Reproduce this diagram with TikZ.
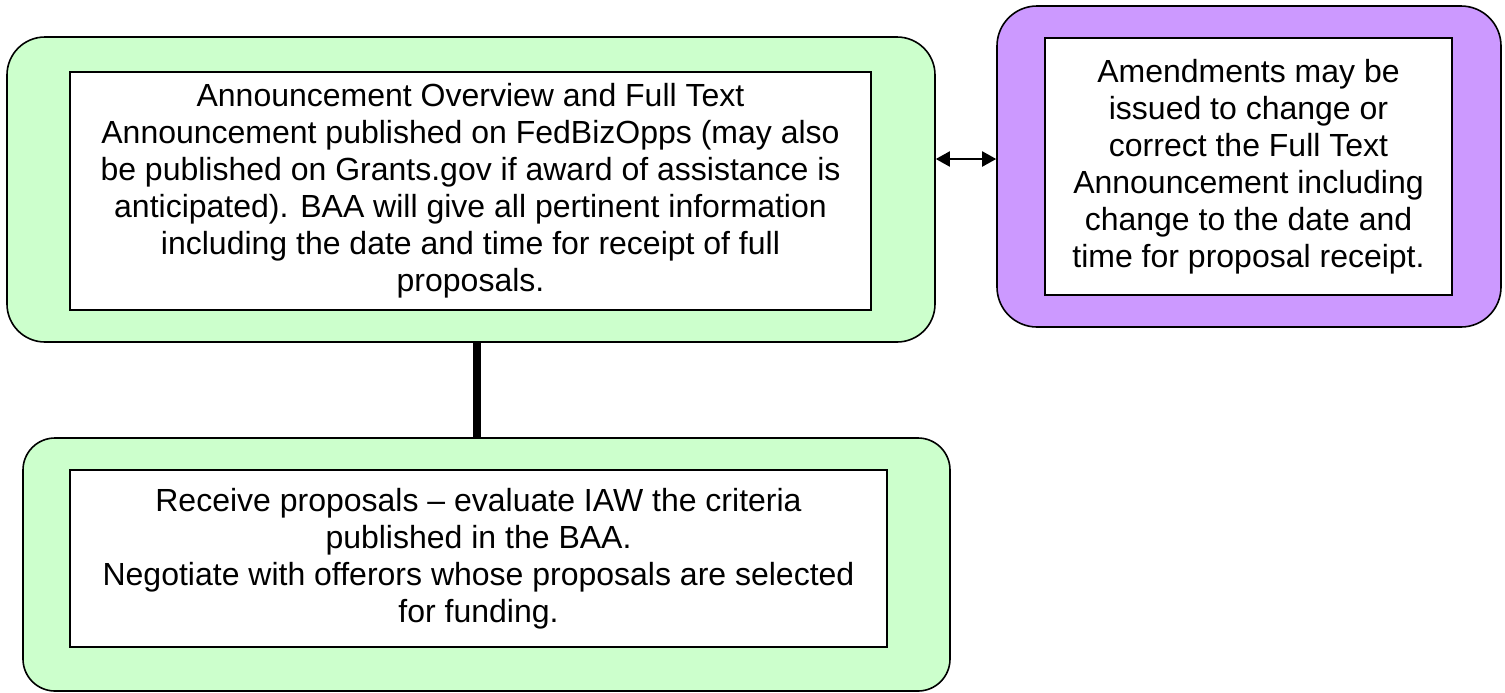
\documentclass[tikz,border=0pt]{standalone}
\usepackage{fontspec}
\setmainfont{Liberation Sans}
\usetikzlibrary{arrows.meta}
\definecolor{boxgreen}{HTML}{CCFFCC}
\definecolor{boxpurple}{HTML}{CC99FF}

\begin{document}
\begin{tikzpicture}[x=1pt,y=1pt,
	outer/.style={draw=black,line width=0.8pt,inner sep=0pt},
	inner/.style={draw=black,fill=white,line width=0.8pt,inner sep=0pt,align=center,font=\fontsize{16}{18.5}\selectfont},
	link/.style={line width=4pt},
	both/.style={line width=1pt,{Triangle[length=7pt,width=7.5pt]}-{Triangle[length=7pt,width=7.5pt]}}]

	\useasboundingbox (0,0) rectangle (752.5,-346);

	\node[outer,fill=boxgreen,rounded corners=19pt,minimum width=464pt,minimum height=152.5pt] (ann) at (235.5,-94.75) {};
	\node[inner,minimum width=400.5pt,minimum height=119pt] (anntext) at (235.25,-95.5) {Announcement Overview and Full Text\\Announcement published on FedBizOpps (may also\\be published on Grants.gov if award of assistance is\\anticipated). BAA will give all pertinent information\\including the date and time for receipt of full\\proposals.};

	\node[outer,fill=boxpurple,rounded corners=20pt,minimum width=252pt,minimum height=160.5pt] (amd) at (624.5,-83.25) {};
	\node[inner,minimum width=203.5pt,minimum height=128.5pt] (amdtext) at (624.25,-83.25) {Amendments may be\\issued to change or\\correct the Full Text\\Announcement including\\change to the date and\\time for proposal receipt.};

	\node[outer,fill=boxgreen,rounded corners=16pt,minimum width=463.5pt,minimum height=126.5pt] (rec) at (243.25,-282.25) {};
	\node[inner,minimum width=408.5pt,minimum height=88.5pt] (rectext) at (239.25,-279.25) {Receive proposals -- evaluate IAW the criteria\\published in the BAA.\\Negotiate with offerors whose proposals are selected\\for funding.};

	\path[link] ([xshift=3pt]ann.south) edge ([xshift=-4.75pt]rec.north);
	\path[both] ([yshift=15.25pt]ann.east) edge ([yshift=3.75pt]amd.west);
\end{tikzpicture}
\end{document}
